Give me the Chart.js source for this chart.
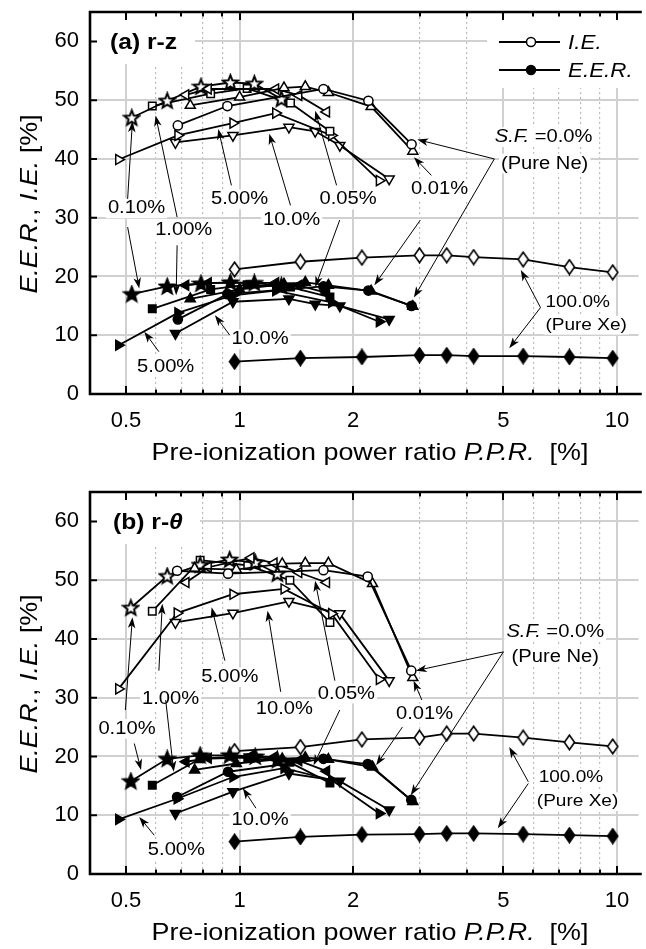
<!DOCTYPE html>
<html><head><meta charset="utf-8">
<script src="https://cdn.jsdelivr.net/npm/chart.js@4.4.1/dist/chart.umd.min.js"></script>
<style>
html,body{margin:0;padding:0;background:#fff;overflow:hidden;}
.box{position:absolute;left:0;width:646px;}
</style></head><body>
<div class="box" style="top:0;height:480px"><canvas id="chartA"></canvas></div>
<div class="box" style="top:480px;height:469px"><canvas id="chartB"></canvas></div>
<script>
// ---------- axis ticks ----------
const xTicks = [0.5,0.6,0.7,0.8,0.9,1,2,3,4,5,6,7,8,9,10];
const xMajor = [0.5,1,2,5,10];
const yTicks = [0,10,20,30,40,50,60];

// ---------- panel (a) r-z ----------
const ppr_a_ne = [0.686,0.928,1.668,2.194,2.855];
const ie_a_ne  = [45.7,49.0,51.9,49.9,42.5];
const eer_a_ne = [12.7,17.0,18.3,17.6,15.0];

const ppr_a_001 = [0.740,1.0,1.311,1.493,1.719,2.231,2.877];
const ie_a_001  = [49.1,50.5,52.1,52.3,51.3,48.9,41.3];
const eer_a_001 = [16.2,17.8,18.7,19.0,18.5,17.5,14.9];

const ppr_a_005 = [0.72,0.826,1.246,1.435,1.70];
const ie_a_005  = [50.9,51.9,51.9,50.8,48.0];
const eer_a_005 = [18.5,18.9,18.9,18.5,17.2];

const ppr_a_010 = [0.518,0.643,0.79,0.945,1.094,1.29];
const ie_a_010  = [47.0,49.9,52.3,53.0,52.8,50.2];
const eer_a_010 = [17.0,18.3,18.8,19.0,18.9,18.4];

const ppr_a_100 = [0.587,0.838,1.047,1.364,1.735];
const ie_a_100  = [49.0,51.1,52.0,49.5,44.7];
const eer_a_100 = [14.5,17.8,18.6,18.2,16.5];

const ppr_a_500 = [0.478,0.686,0.960,1.246,1.753,2.345];
const ie_a_500  = [39.9,44.0,46.1,47.8,44.0,36.3];
const eer_a_500 = [8.3,13.8,16.8,17.6,15.6,12.3];

const ppr_a_1000 = [0.676,0.960,1.351,1.586,1.843,2.49];
const ie_a_1000  = [42.8,44.0,45.4,44.7,42.3,36.6];
const eer_a_1000 = [10.3,15.7,16.2,15.3,15.0,12.7];

const ppr_a_xe = [0.970,1.449,2.109,2.996,3.538,4.17,5.64,7.48,9.74];
const ie_a_xe  = [21.2,22.5,23.2,23.6,23.6,23.3,22.9,21.6,20.7];
const eer_a_xe = [5.5,6.1,6.3,6.6,6.6,6.45,6.45,6.3,6.1];

// ---------- panel (b) r-theta ----------
const ppr_b_ne = [0.683,0.932,1.668,2.185,2.85];
const ie_b_ne  = [51.6,51.1,51.7,50.6,34.6];
const eer_b_ne = [13.1,17.4,19.6,18.7,12.6];

const ppr_b_001 = [0.76,0.98,1.297,1.493,1.719,2.25,2.877];
const ie_b_001  = [52.0,51.8,52.8,52.9,52.9,49.4,33.4];
const eer_b_001 = [17.7,18.8,19.6,19.8,19.5,18.2,12.3];

const ppr_b_005 = [0.721,0.826,1.072,1.234,1.435,1.70];
const ie_b_005  = [49.6,52.2,53.8,52.9,51.3,49.6];
const eer_b_005 = [19.1,19.7,20.1,19.9,19.3,17.5];

const ppr_b_010 = [0.515,0.643,0.786,0.941,1.1,1.259];
const ie_b_010  = [45.3,50.7,52.6,53.5,53.0,51.1];
const eer_b_010 = [15.8,19.6,20.2,20.2,20.0,19.4];

const ppr_b_100 = [0.587,0.786,1.051,1.359,1.735];
const ie_b_100  = [44.7,53.4,52.5,50.0,42.8];
const eer_b_100 = [15.1,19.6,19.8,19.0,15.5];

const ppr_b_500 = [0.478,0.683,0.960,1.311,1.753,2.345];
const ie_b_500  = [31.5,44.4,47.6,48.5,44.3,33.1];
const eer_b_500 = [9.3,12.8,16.5,18.0,16.0,10.3];

const ppr_b_1000 = [0.676,0.960,1.351,1.843,2.49];
const ie_b_1000  = [42.8,44.4,46.4,44.3,32.9];
const eer_b_1000 = [10.3,14.0,17.1,15.8,10.9];

const ppr_b_xe = [0.970,1.449,2.109,2.996,3.538,4.17,5.64,7.48,9.74];
const ie_b_xe  = [20.9,21.6,22.9,23.2,23.9,23.9,23.2,22.4,21.7];
const eer_b_xe = [5.5,6.3,6.7,6.8,6.9,6.9,6.8,6.6,6.45];

// ---------- annotation texts and arrows (data coordinates) ----------
const I = t => ({t, it:true});
const N = t => ({t, it:false});
const sfLabel = [I('S.F.'), N(' =0.0%')];
const notesA = [
  ['0.10%',0.533,31.6,'c',18],['1.00%',0.711,27.9,'c',18],['5.00%',1.0,33.1,'c',18],
  ['10.0%',1.374,29.6,'c',18],['0.05%',1.938,33.1,'c',18],['0.01%',3.385,34.8,'c',18],
  [sfLabel,6.39,43.7,'c',18],['(Pure Ne)',6.43,39.2,'c',18],
  ['5.00%',0.637,4.6,'c',18],['10.0%',1.133,9.3,'c',18],
  ['100.0%',6.46,15.6,'l',17],['(Pure Xe)',6.46,11.7,'l',17]
];
const arrowsA = [
  [0.505,33.2,0.52,46.4],[0.505,28.4,0.542,17.95],
  [0.683,30.1,0.599,47.4],[0.683,25.3,0.679,16.8],
  [0.951,35.5,0.878,45.1],[0.611,7.2,0.559,10.6],
  [1.364,32.1,1.198,44.3],[0.942,10.0,0.86,13.4],
  [1.807,35.5,1.586,48.2],[1.842,29.6,1.586,18.2],
  [3.222,37.2,2.896,40.3],[3.012,29.6,2.275,18.5],
  [4.73,40.0,2.956,43.3],[4.73,40.0,2.896,16.4],
  [6.27,14.7,5.56,21.1],[6.27,14.7,5.18,7.8]
];
const notesB = [
  ['0.10%',0.503,24.7,'c',18],['1.00%',0.656,29.8,'c',18],['5.00%',0.942,33.5,'c',18],
  ['10.0%',1.314,28.1,'c',18],['0.05%',1.919,30.7,'c',18],['0.01%',3.09,27.3,'c',18],
  [sfLabel,6.86,41.2,'c',18],['(Pure Ne)',6.86,36.9,'c',18],
  ['5.00%',0.68,4.1,'c',18],['10.0%',1.133,9.2,'c',18],
  ['100.0%',6.2,16.5,'l',17],['(Pure Xe)',6.13,12.3,'l',17]
];
const arrowsB = [
  [0.498,27.9,0.52,43.7],[0.526,22.2,0.548,17.7],
  [0.611,34.6,0.624,46.0],[0.637,29.6,0.669,17.4],
  [0.914,36.3,0.843,45.4],[0.594,6.6,0.542,9.7],
  [1.285,31.0,1.186,44.8],[1.105,11.2,1.02,14.6],
  [1.788,32.9,1.585,49.9],[1.842,27.9,1.57,18.5],
  [3.04,29.6,2.89,32.9],[2.7,25.0,2.3,18.5],
  [5.0,37.8,2.93,34.6],[5.0,37.8,2.84,13.4],
  [5.82,15.7,5.18,21.6],[5.82,15.4,4.83,7.8]
];

// ---------- marker images ----------
function mkStar(filled){
  const c=document.createElement('canvas'); c.width=19; c.height=19;
  const g=c.getContext('2d'); g.beginPath();
  for(let i=0;i<10;i++){const r=i%2?3.4:7.8; const a=-Math.PI/2+i*Math.PI/5; g.lineTo(9.5+r*Math.cos(a),10+r*Math.sin(a));}
  g.closePath(); g.fillStyle=filled?'#000':'#fff'; g.fill(); g.lineJoin='miter'; g.lineWidth=2; g.strokeStyle='#000'; g.stroke(); return c;
}
function mkDiamond(filled){
  const c=document.createElement('canvas'); c.width=13; c.height=17;
  const g=c.getContext('2d'); g.beginPath();
  g.moveTo(6.5,1.2); g.lineTo(11.6,8.5); g.lineTo(6.5,15.8); g.lineTo(1.4,8.5); g.closePath();
  g.fillStyle=filled?'#000':'#fff'; g.fill(); g.lineWidth=1.6; g.strokeStyle='#000'; g.stroke(); return c;
}
const STAR_O=mkStar(false), STAR_F=mkStar(true), DIA_O=mkDiamond(false), DIA_F=mkDiamond(true);

const STYLE = {
  ne:{ps:'circle', r:4.6, rot:0},
  s001:{ps:'triangle', r:5.8, rot:0},
  s005:{ps:'triangle', r:5.8, rot:270},
  s010:{img:[STAR_O,STAR_F]},
  s100:{ps:'rect', r:5.3, rot:0},
  s500:{ps:'triangle', r:5.8, rot:90},
  s1000:{ps:'triangle', r:5.8, rot:180},
  xe:{img:[DIA_O,DIA_F]}
};

function ds(key, xs, ys, filled){
  const st=STYLE[key];
  return {
    data: xs.map((x,i)=>({x, y: ys[i]})),
    borderColor:'#000', borderWidth:1.8,
    pointStyle: st.img ? st.img[filled?1:0] : st.ps,
    pointRadius: st.r || 6, pointRotation: st.rot || 0,
    pointBackgroundColor: filled?'#000':'#fff', pointBorderColor:'#000', pointBorderWidth:1.5,
    tension:0, fill:false
  };
}
function buildSets(p){
  const S = p==='a' ? [
    ['ne',ppr_a_ne,ie_a_ne,eer_a_ne],['s001',ppr_a_001,ie_a_001,eer_a_001],['s005',ppr_a_005,ie_a_005,eer_a_005],
    ['s010',ppr_a_010,ie_a_010,eer_a_010],['s100',ppr_a_100,ie_a_100,eer_a_100],['s500',ppr_a_500,ie_a_500,eer_a_500],
    ['s1000',ppr_a_1000,ie_a_1000,eer_a_1000],['xe',ppr_a_xe,ie_a_xe,eer_a_xe]
  ] : [
    ['ne',ppr_b_ne,ie_b_ne,eer_b_ne],['s001',ppr_b_001,ie_b_001,eer_b_001],['s005',ppr_b_005,ie_b_005,eer_b_005],
    ['s010',ppr_b_010,ie_b_010,eer_b_010],['s100',ppr_b_100,ie_b_100,eer_b_100],['s500',ppr_b_500,ie_b_500,eer_b_500],
    ['s1000',ppr_b_1000,ie_b_1000,eer_b_1000],['xe',ppr_b_xe,ie_b_xe,eer_b_xe]
  ];
  const out=[];
  S.forEach(s=>{ out.push(ds(s[0],s[1],s[2],false)); out.push(ds(s[0],s[1],s[3],true)); });
  return out;
}

// ---------- text helpers ----------
const FONT='"Liberation Sans", Arial, sans-serif';
const SX=1.12;
function fnt(size,it,b){return (it?'italic ':'')+(b?'bold ':'')+size+'px '+FONT;}
function partsOf(t){return typeof t==='string'?[N(t)]:t.map(p=>({...p}));}
function measure(ctx,parts,size){let w=0;for(const p of parts){ctx.font=fnt(size,p.it,p.b);p.w=ctx.measureText(p.t).width;w+=p.w;}return w*SX;}
function drawText(ctx,t,x,y,size,align){
  const parts=partsOf(t); const W=measure(ctx,parts,size);
  const x0= align==='l'?x:(align==='r'?x-W:x-W/2);
  ctx.save(); ctx.translate(x0,y); ctx.scale(SX,1); ctx.textAlign='left'; ctx.textBaseline='middle'; ctx.fillStyle='#000';
  let cx=0; for(const p of parts){ctx.font=fnt(size,p.it,p.b); ctx.fillText(p.t,cx,0); cx+=p.w;}
  ctx.restore(); return {x0,W};
}
function arrow(ctx,x1,y1,x2,y2){
  const a=Math.atan2(y2-y1,x2-x1);
  ctx.save(); ctx.strokeStyle='#000'; ctx.fillStyle='#000'; ctx.lineWidth=1;
  ctx.beginPath(); ctx.moveTo(x1,y1); ctx.lineTo(x2-Math.cos(a)*7,y2-Math.sin(a)*7); ctx.stroke();
  ctx.translate(x2,y2); ctx.rotate(a); ctx.beginPath(); ctx.moveTo(0,0); ctx.lineTo(-11,-3.8); ctx.lineTo(-8,0); ctx.lineTo(-11,3.8); ctx.closePath(); ctx.fill();
  ctx.restore();
}

function decor(panel, notes, arrows){
  return {
    id:'decor'+panel,
    beforeDatasetsDraw(chart){
      const ctx=chart.ctx, xs=chart.scales.x, ys=chart.scales.y, ca=chart.chartArea;
      ctx.save(); ctx.fillStyle='#fff';
      ctx.fillRect(ca.left, ca.top, panel==='a'?105:110, 52);
      if(panel==='a') ctx.fillRect(487, ca.top, 646-487, 76);
      for(const n of notes){
        const parts=partsOf(n[0]); const W=measure(ctx,parts,n[4]);
        const px=xs.getPixelForValue(n[1]), py=ys.getPixelForValue(n[2]);
        const x0=n[3]==='l'?px:px-W/2;
        ctx.fillRect(x0-2, py-n[4]*0.55, W+4, n[4]*1.1);
      }
      ctx.restore();
      for(const n of notes){ drawText(ctx,n[0],xs.getPixelForValue(n[1]),ys.getPixelForValue(n[2]),n[4],n[3]); }
    },
    afterDraw(chart){
      const ctx=chart.ctx, xs=chart.scales.x, ys=chart.scales.y, ca=chart.chartArea;
      for(const a of arrows){ arrow(ctx,xs.getPixelForValue(a[0]),ys.getPixelForValue(a[1]),xs.getPixelForValue(a[2]),ys.getPixelForValue(a[3])); }
      ctx.save(); ctx.strokeStyle='#000'; ctx.lineWidth=2.6; ctx.lineCap='square';
      ctx.beginPath(); ctx.moveTo(ca.right+2,ca.top); ctx.lineTo(ca.left,ca.top); ctx.lineTo(ca.left,ca.bottom); ctx.lineTo(ca.right+2,ca.bottom); ctx.stroke();
      ctx.lineWidth=2; ctx.lineCap='butt'; ctx.beginPath();
      for(const v of xTicks){ const px=Math.round(xs.getPixelForValue(v)); const L=xMajor.includes(v)?8:4.5;
        ctx.moveTo(px,ca.bottom); ctx.lineTo(px,ca.bottom-L); ctx.moveTo(px,ca.top); ctx.lineTo(px,ca.top+L); }
      for(const v of yTicks){ if(v===0) continue; const py=ys.getPixelForValue(v); ctx.moveTo(ca.left,py); ctx.lineTo(ca.left+7,py); }
      ctx.stroke(); ctx.restore();
      if(panel==='a') drawText(ctx,[{t:'(a) r-z',b:true}],110,ca.top+31,22,'l');
      else drawText(ctx,[{t:'(b) r-',b:true},{t:'\u03B8',b:true,it:true}],113,ca.top+31,22,'l');
      if(panel==='a'){
        ctx.save(); ctx.strokeStyle='#000'; ctx.lineWidth=1.8;
        [[42,false,'I.E.'],[70,true,'E.E.R.']].forEach(r=>{
          ctx.beginPath(); ctx.moveTo(499,r[0]); ctx.lineTo(560,r[0]); ctx.stroke();
          ctx.beginPath(); ctx.arc(531,r[0],4.5,0,Math.PI*2); ctx.fillStyle=r[1]?'#000':'#fff'; ctx.fill(); ctx.lineWidth=1.5; ctx.stroke(); ctx.lineWidth=1.8;
          drawText(ctx,[I(r[2])],568,r[0]+1,20,'l');
        });
        ctx.restore();
      }
      drawText(ctx,[N('Pre-ionization power ratio '),I('P.P.R.'),N('  [%]')],370,ca.bottom+59,24,'c');
      ctx.save(); ctx.translate(30,(ca.top+ca.bottom)/2+1); ctx.rotate(-Math.PI/2);
      drawText(ctx,[I('E.E.R.'),N(', '),I('I.E.'),N(' [%]')],0,0,24,'c');
      ctx.restore();
    }
  };
}

function makeChart(id, panel, notes, arrows){
  return new Chart(document.getElementById(id), {
    type:'line',
    data:{datasets: buildSets(panel)},
    options:{
      responsive:true, maintainAspectRatio:false, animation:false, devicePixelRatio:1, events:[],
      layout:{padding:{top:12,left:0,right:0,bottom:0}},
      plugins:{legend:{display:false}, tooltip:{enabled:false}},
      scales:{
        x:{type:'logarithmic', min:0.4014, max:11.4,
          afterBuildTicks:s=>{s.ticks=xTicks.map(v=>({value:v}));},
          afterFit:s=>{s.height=s.chart.height-394; s.paddingLeft=0; s.paddingRight=0; s.paddingTop=0; s.paddingBottom=0;},
          ticks:{autoSkip:false, maxRotation:0, minRotation:0, padding:14, color:'#000',
            font:{family:FONT,size:22}, callback:v=>xMajor.includes(v)?String(v):''},
          grid:{drawTicks:false, color:c=>xMajor.includes(c.tick.value)?'#d0d0d0':'#bcbcbc',
            lineWidth:c=>xMajor.includes(c.tick.value)?2:1.2},
          border:{display:false, dash:c=>(c.tick && xMajor.includes(c.tick.value))?[]:[2,3]}
        },
        y:{type:'linear', min:0, max:65,
          afterBuildTicks:s=>{s.ticks=yTicks.map(v=>({value:v}));},
          afterFit:s=>{s.width=90; s.paddingTop=0; s.paddingBottom=0; s.paddingLeft=0; s.paddingRight=0;},
          ticks:{padding:11, color:'#000', font:{family:FONT,size:22}},
          grid:{drawTicks:false, color:'#d0d0d0', lineWidth:2},
          border:{display:false}
        }
      }
    },
    plugins:[decor(panel,notes,arrows)]
  });
}
makeChart('chartA','a',notesA,arrowsA);
makeChart('chartB','b',notesB,arrowsB);
</script></body></html>
